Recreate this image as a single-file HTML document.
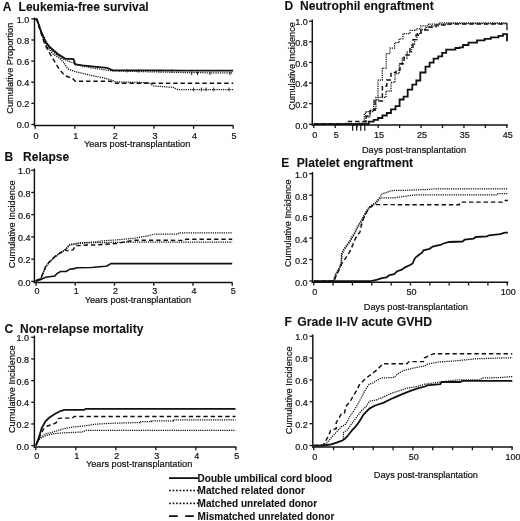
<!DOCTYPE html><html><head><meta charset="utf-8"><style>html,body{margin:0;padding:0;background:#fff;}svg{display:block;filter:blur(0.25px);}text{font-family:"Liberation Sans", sans-serif;fill:#111;stroke:#111;stroke-width:0.2px;} text[font-weight=bold]{stroke-width:0.08px;}</style></head><body>
<svg width="520" height="521" viewBox="0 0 520 521">
<rect width="520" height="521" fill="#fff"/>
<text x="2.7" y="10.9" font-size="12" font-weight="bold" text-anchor="start" >A</text>
<text x="18.6" y="10.9" font-size="12" font-weight="bold" text-anchor="start" >Leukemia-free survival</text>
<path d="M34.5 17.5 V126.2" stroke="#111" stroke-width="1.45" fill="none"/>
<path d="M33.8 125.6 H233.5" stroke="#111" stroke-width="1.5" fill="none"/>
<path d="M31.3 124.4 H34.5" stroke="#111" stroke-width="1.3"/>
<text x="29.3" y="128.1" font-size="9" font-weight="normal" text-anchor="end" >0.0</text>
<path d="M31.3 103.3 H34.5" stroke="#111" stroke-width="1.3"/>
<text x="29.3" y="107" font-size="9" font-weight="normal" text-anchor="end" >0.2</text>
<path d="M31.3 82.2 H34.5" stroke="#111" stroke-width="1.3"/>
<text x="29.3" y="85.9" font-size="9" font-weight="normal" text-anchor="end" >0.4</text>
<path d="M31.3 61.1 H34.5" stroke="#111" stroke-width="1.3"/>
<text x="29.3" y="64.8" font-size="9" font-weight="normal" text-anchor="end" >0.6</text>
<path d="M31.3 40 H34.5" stroke="#111" stroke-width="1.3"/>
<text x="29.3" y="43.7" font-size="9" font-weight="normal" text-anchor="end" >0.8</text>
<path d="M31.3 18.9 H34.5" stroke="#111" stroke-width="1.3"/>
<text x="29.3" y="22.6" font-size="9" font-weight="normal" text-anchor="end" >1.0</text>
<path d="M35.2 125.6 V128.8" stroke="#111" stroke-width="1.3"/>
<text x="36.1" y="138.8" font-size="9" font-weight="normal" text-anchor="middle" >0</text>
<path d="M74.8 125.6 V128.8" stroke="#111" stroke-width="1.3"/>
<text x="75.7" y="138.8" font-size="9" font-weight="normal" text-anchor="middle" >1</text>
<path d="M114.4 125.6 V128.8" stroke="#111" stroke-width="1.3"/>
<text x="115.3" y="138.8" font-size="9" font-weight="normal" text-anchor="middle" >2</text>
<path d="M154 125.6 V128.8" stroke="#111" stroke-width="1.3"/>
<text x="154.9" y="138.8" font-size="9" font-weight="normal" text-anchor="middle" >3</text>
<path d="M193.6 125.6 V128.8" stroke="#111" stroke-width="1.3"/>
<text x="194.5" y="138.8" font-size="9" font-weight="normal" text-anchor="middle" >4</text>
<path d="M233.2 125.6 V128.8" stroke="#111" stroke-width="1.3"/>
<text x="234.1" y="138.8" font-size="9" font-weight="normal" text-anchor="middle" >5</text>
<text x="137.1" y="147" font-size="9.2" font-weight="normal" text-anchor="middle" >Years post-transplantation</text>
<text transform="translate(12.6 68.2) rotate(-90)" font-size="9.2" text-anchor="middle">Cumulative Proportion</text>
<text x="4.6" y="161.1" font-size="12" font-weight="bold" text-anchor="start" >B</text>
<text x="23.1" y="161.1" font-size="12" font-weight="bold" text-anchor="start" >Relapse</text>
<path d="M34.4 168.5 V283.1" stroke="#111" stroke-width="1.45" fill="none"/>
<path d="M33.7 282.5 H232.5" stroke="#111" stroke-width="1.5" fill="none"/>
<path d="M31.2 281.4 H34.4" stroke="#111" stroke-width="1.3"/>
<text x="30.4" y="285.6" font-size="9" font-weight="normal" text-anchor="end" >0.0</text>
<path d="M31.2 259.16 H34.4" stroke="#111" stroke-width="1.3"/>
<text x="30.4" y="263.36" font-size="9" font-weight="normal" text-anchor="end" >0.2</text>
<path d="M31.2 236.92 H34.4" stroke="#111" stroke-width="1.3"/>
<text x="30.4" y="241.12" font-size="9" font-weight="normal" text-anchor="end" >0.4</text>
<path d="M31.2 214.68 H34.4" stroke="#111" stroke-width="1.3"/>
<text x="30.4" y="218.88" font-size="9" font-weight="normal" text-anchor="end" >0.6</text>
<path d="M31.2 192.44 H34.4" stroke="#111" stroke-width="1.3"/>
<text x="30.4" y="196.64" font-size="9" font-weight="normal" text-anchor="end" >0.8</text>
<path d="M31.2 170.2 H34.4" stroke="#111" stroke-width="1.3"/>
<text x="30.4" y="174.4" font-size="9" font-weight="normal" text-anchor="end" >1.0</text>
<path d="M36 282.5 V285.7" stroke="#111" stroke-width="1.3"/>
<text x="36.9" y="294.4" font-size="9" font-weight="normal" text-anchor="middle" >0</text>
<path d="M75.25 282.5 V285.7" stroke="#111" stroke-width="1.3"/>
<text x="76.15" y="294.4" font-size="9" font-weight="normal" text-anchor="middle" >1</text>
<path d="M114.5 282.5 V285.7" stroke="#111" stroke-width="1.3"/>
<text x="115.4" y="294.4" font-size="9" font-weight="normal" text-anchor="middle" >2</text>
<path d="M153.75 282.5 V285.7" stroke="#111" stroke-width="1.3"/>
<text x="154.65" y="294.4" font-size="9" font-weight="normal" text-anchor="middle" >3</text>
<path d="M193 282.5 V285.7" stroke="#111" stroke-width="1.3"/>
<text x="193.9" y="294.4" font-size="9" font-weight="normal" text-anchor="middle" >4</text>
<path d="M232.25 282.5 V285.7" stroke="#111" stroke-width="1.3"/>
<text x="233.15" y="294.4" font-size="9" font-weight="normal" text-anchor="middle" >5</text>
<text x="137.9" y="302.6" font-size="9.2" font-weight="normal" text-anchor="middle" >Years post-transplantation</text>
<text transform="translate(15 224.3) rotate(-90)" font-size="9.2" text-anchor="middle">Cumulative Incidence</text>
<text x="4.5" y="332.9" font-size="12" font-weight="bold" text-anchor="start" >C</text>
<text x="20" y="332.9" font-size="12" font-weight="bold" text-anchor="start" >Non-relapse mortality</text>
<path d="M34.4 335.5 V447.6" stroke="#111" stroke-width="1.45" fill="none"/>
<path d="M33.7 447 H236.3" stroke="#111" stroke-width="1.5" fill="none"/>
<path d="M31.2 445.6 H34.4" stroke="#111" stroke-width="1.3"/>
<text x="29" y="449.5" font-size="9" font-weight="normal" text-anchor="end" >0.0</text>
<path d="M31.2 423.94 H34.4" stroke="#111" stroke-width="1.3"/>
<text x="29" y="427.84" font-size="9" font-weight="normal" text-anchor="end" >0.2</text>
<path d="M31.2 402.28 H34.4" stroke="#111" stroke-width="1.3"/>
<text x="29" y="406.18" font-size="9" font-weight="normal" text-anchor="end" >0.4</text>
<path d="M31.2 380.62 H34.4" stroke="#111" stroke-width="1.3"/>
<text x="29" y="384.52" font-size="9" font-weight="normal" text-anchor="end" >0.6</text>
<path d="M31.2 358.96 H34.4" stroke="#111" stroke-width="1.3"/>
<text x="29" y="362.86" font-size="9" font-weight="normal" text-anchor="end" >0.8</text>
<path d="M31.2 337.3 H34.4" stroke="#111" stroke-width="1.3"/>
<text x="29" y="341.2" font-size="9" font-weight="normal" text-anchor="end" >1.0</text>
<path d="M35.8 447 V450.2" stroke="#111" stroke-width="1.3"/>
<text x="36.7" y="459.2" font-size="9" font-weight="normal" text-anchor="middle" >0</text>
<path d="M75.82 447 V450.2" stroke="#111" stroke-width="1.3"/>
<text x="76.72" y="459.2" font-size="9" font-weight="normal" text-anchor="middle" >1</text>
<path d="M115.84 447 V450.2" stroke="#111" stroke-width="1.3"/>
<text x="116.74" y="459.2" font-size="9" font-weight="normal" text-anchor="middle" >2</text>
<path d="M155.86 447 V450.2" stroke="#111" stroke-width="1.3"/>
<text x="156.76" y="459.2" font-size="9" font-weight="normal" text-anchor="middle" >3</text>
<path d="M195.88 447 V450.2" stroke="#111" stroke-width="1.3"/>
<text x="196.78" y="459.2" font-size="9" font-weight="normal" text-anchor="middle" >4</text>
<path d="M235.9 447 V450.2" stroke="#111" stroke-width="1.3"/>
<text x="236.8" y="459.2" font-size="9" font-weight="normal" text-anchor="middle" >5</text>
<text x="139.1" y="467.3" font-size="9.2" font-weight="normal" text-anchor="middle" >Years post-transplantation</text>
<text transform="translate(14.6 389.2) rotate(-90)" font-size="9.2" text-anchor="middle">Cumulative Incidence</text>
<text x="284.6" y="9.6" font-size="12" font-weight="bold" text-anchor="start" >D</text>
<text x="300" y="9.6" font-size="12.1" font-weight="bold" text-anchor="start" >Neutrophil engraftment</text>
<path d="M312.3 19.5 V125.5" stroke="#111" stroke-width="1.45" fill="none"/>
<path d="M311.6 124.9 H507.8" stroke="#111" stroke-width="1.5" fill="none"/>
<path d="M309.1 124.3 H312.3" stroke="#111" stroke-width="1.3"/>
<text x="307.8" y="128.5" font-size="9" font-weight="normal" text-anchor="end" >0.0</text>
<path d="M309.1 103.68 H312.3" stroke="#111" stroke-width="1.3"/>
<text x="307.8" y="107.88" font-size="9" font-weight="normal" text-anchor="end" >0.2</text>
<path d="M309.1 83.06 H312.3" stroke="#111" stroke-width="1.3"/>
<text x="307.8" y="87.26" font-size="9" font-weight="normal" text-anchor="end" >0.4</text>
<path d="M309.1 62.44 H312.3" stroke="#111" stroke-width="1.3"/>
<text x="307.8" y="66.64" font-size="9" font-weight="normal" text-anchor="end" >0.6</text>
<path d="M309.1 41.82 H312.3" stroke="#111" stroke-width="1.3"/>
<text x="307.8" y="46.02" font-size="9" font-weight="normal" text-anchor="end" >0.8</text>
<path d="M309.1 21.2 H312.3" stroke="#111" stroke-width="1.3"/>
<text x="307.8" y="25.4" font-size="9" font-weight="normal" text-anchor="end" >1.0</text>
<path d="M313.8 124.9 V128.1" stroke="#111" stroke-width="1.3"/>
<text x="314.7" y="137.5" font-size="9" font-weight="normal" text-anchor="middle" >0</text>
<path d="M335.25 124.9 V128.1" stroke="#111" stroke-width="1.3"/>
<text x="336.15" y="137.5" font-size="9" font-weight="normal" text-anchor="middle" >5</text>
<path d="M356.7 124.9 V128.1" stroke="#111" stroke-width="1.3"/>
<path d="M378.15 124.9 V128.1" stroke="#111" stroke-width="1.3"/>
<text x="379.05" y="137.5" font-size="9" font-weight="normal" text-anchor="middle" >15</text>
<path d="M399.6 124.9 V128.1" stroke="#111" stroke-width="1.3"/>
<path d="M421.05 124.9 V128.1" stroke="#111" stroke-width="1.3"/>
<text x="421.95" y="137.5" font-size="9" font-weight="normal" text-anchor="middle" >25</text>
<path d="M442.5 124.9 V128.1" stroke="#111" stroke-width="1.3"/>
<path d="M463.95 124.9 V128.1" stroke="#111" stroke-width="1.3"/>
<text x="464.85" y="137.5" font-size="9" font-weight="normal" text-anchor="middle" >35</text>
<path d="M485.4 124.9 V128.1" stroke="#111" stroke-width="1.3"/>
<path d="M506.85 124.9 V128.1" stroke="#111" stroke-width="1.3"/>
<text x="507.75" y="137.5" font-size="9" font-weight="normal" text-anchor="middle" >45</text>
<text x="414" y="152.6" font-size="9.2" font-weight="normal" text-anchor="middle" >Days post-transplantation</text>
<text transform="translate(294.7 66) rotate(-90)" font-size="9.2" text-anchor="middle">Cumulative Incidence</text>
<text x="281.2" y="167" font-size="12" font-weight="bold" text-anchor="start" >E</text>
<text x="296.8" y="167" font-size="12.1" font-weight="bold" text-anchor="start" >Platelet engraftment</text>
<path d="M312.5 172 V282.9" stroke="#111" stroke-width="1.45" fill="none"/>
<path d="M311.8 282.3 H508.4" stroke="#111" stroke-width="1.5" fill="none"/>
<path d="M309.3 281 H312.5" stroke="#111" stroke-width="1.3"/>
<text x="307.5" y="285.7" font-size="9" font-weight="normal" text-anchor="end" >0.0</text>
<path d="M309.3 259.54 H312.5" stroke="#111" stroke-width="1.3"/>
<text x="307.5" y="264.24" font-size="9" font-weight="normal" text-anchor="end" >0.2</text>
<path d="M309.3 238.08 H312.5" stroke="#111" stroke-width="1.3"/>
<text x="307.5" y="242.78" font-size="9" font-weight="normal" text-anchor="end" >0.4</text>
<path d="M309.3 216.62 H312.5" stroke="#111" stroke-width="1.3"/>
<text x="307.5" y="221.32" font-size="9" font-weight="normal" text-anchor="end" >0.6</text>
<path d="M309.3 195.16 H312.5" stroke="#111" stroke-width="1.3"/>
<text x="307.5" y="199.86" font-size="9" font-weight="normal" text-anchor="end" >0.8</text>
<path d="M309.3 173.7 H312.5" stroke="#111" stroke-width="1.3"/>
<text x="307.5" y="178.4" font-size="9" font-weight="normal" text-anchor="end" >1.0</text>
<path d="M313.75 282.3 V285.5" stroke="#111" stroke-width="1.3"/>
<text x="314.65" y="295" font-size="9" font-weight="normal" text-anchor="middle" >0</text>
<path d="M333.1 282.3 V285.5" stroke="#111" stroke-width="1.3"/>
<path d="M352.45 282.3 V285.5" stroke="#111" stroke-width="1.3"/>
<path d="M371.8 282.3 V285.5" stroke="#111" stroke-width="1.3"/>
<path d="M391.15 282.3 V285.5" stroke="#111" stroke-width="1.3"/>
<path d="M410.5 282.3 V285.5" stroke="#111" stroke-width="1.3"/>
<text x="411.4" y="295" font-size="9" font-weight="normal" text-anchor="middle" >50</text>
<path d="M429.85 282.3 V285.5" stroke="#111" stroke-width="1.3"/>
<path d="M449.2 282.3 V285.5" stroke="#111" stroke-width="1.3"/>
<path d="M468.55 282.3 V285.5" stroke="#111" stroke-width="1.3"/>
<path d="M487.9 282.3 V285.5" stroke="#111" stroke-width="1.3"/>
<path d="M507.25 282.3 V285.5" stroke="#111" stroke-width="1.3"/>
<text x="508.15" y="295" font-size="9" font-weight="normal" text-anchor="middle" >100</text>
<text x="415.9" y="310.2" font-size="9.2" font-weight="normal" text-anchor="middle" >Days post-transplantation</text>
<text transform="translate(291.1 223.2) rotate(-90)" font-size="9.2" text-anchor="middle">Cumulative Incidence</text>
<text x="284.6" y="326.2" font-size="12" font-weight="bold" text-anchor="start" >F</text>
<text x="297.2" y="326.2" font-size="12.2" font-weight="bold" text-anchor="start" >Grade II-IV acute GVHD</text>
<path d="M312.8 334.5 V447.6" stroke="#111" stroke-width="1.45" fill="none"/>
<path d="M312.1 447 H512.8" stroke="#111" stroke-width="1.5" fill="none"/>
<path d="M309.6 445.5 H312.8" stroke="#111" stroke-width="1.3"/>
<text x="307.8" y="449.7" font-size="9" font-weight="normal" text-anchor="end" >0.0</text>
<path d="M309.6 423.64 H312.8" stroke="#111" stroke-width="1.3"/>
<text x="307.8" y="427.84" font-size="9" font-weight="normal" text-anchor="end" >0.2</text>
<path d="M309.6 401.78 H312.8" stroke="#111" stroke-width="1.3"/>
<text x="307.8" y="405.98" font-size="9" font-weight="normal" text-anchor="end" >0.4</text>
<path d="M309.6 379.92 H312.8" stroke="#111" stroke-width="1.3"/>
<text x="307.8" y="384.12" font-size="9" font-weight="normal" text-anchor="end" >0.6</text>
<path d="M309.6 358.06 H312.8" stroke="#111" stroke-width="1.3"/>
<text x="307.8" y="362.26" font-size="9" font-weight="normal" text-anchor="end" >0.8</text>
<path d="M309.6 336.2 H312.8" stroke="#111" stroke-width="1.3"/>
<text x="307.8" y="340.4" font-size="9" font-weight="normal" text-anchor="end" >1.0</text>
<path d="M313.75 447 V450.2" stroke="#111" stroke-width="1.3"/>
<text x="314.65" y="459.7" font-size="9" font-weight="normal" text-anchor="middle" >0</text>
<path d="M333.58 447 V450.2" stroke="#111" stroke-width="1.3"/>
<path d="M353.41 447 V450.2" stroke="#111" stroke-width="1.3"/>
<path d="M373.24 447 V450.2" stroke="#111" stroke-width="1.3"/>
<path d="M393.07 447 V450.2" stroke="#111" stroke-width="1.3"/>
<path d="M412.9 447 V450.2" stroke="#111" stroke-width="1.3"/>
<text x="413.8" y="459.7" font-size="9" font-weight="normal" text-anchor="middle" >50</text>
<path d="M432.73 447 V450.2" stroke="#111" stroke-width="1.3"/>
<path d="M452.56 447 V450.2" stroke="#111" stroke-width="1.3"/>
<path d="M472.39 447 V450.2" stroke="#111" stroke-width="1.3"/>
<path d="M492.22 447 V450.2" stroke="#111" stroke-width="1.3"/>
<path d="M512.05 447 V450.2" stroke="#111" stroke-width="1.3"/>
<text x="512.95" y="459.7" font-size="9" font-weight="normal" text-anchor="middle" >100</text>
<text x="425.9" y="478.4" font-size="9.2" font-weight="normal" text-anchor="middle" >Days post-transplantation</text>
<text transform="translate(292 390.3) rotate(-90)" font-size="9.2" text-anchor="middle">Cumulative Incidence</text>
<path d="M35.5 18.9 L37 19.4 L41.2 32 L46 42.2 L50 47.3 L57.5 53.7 L65 58.6 L73.5 59.2 L75.2 64.4 L82.5 65.4 L96.5 66.9 L107 67.9 L112.8 70.4 L150 70.4 L186 70.6 L233.2 70.6" stroke="#111" stroke-width="1.8" fill="none" stroke-linejoin="miter"/>
<path d="M35.5 18.9 L37 19.5 L40 29 L43.5 40 L47.5 47.5 L53 54 L60 58.5 L63 61.5 L67.7 68.8 L75.3 71.7 L91.7 75.6 L101.3 77.5 L110.8 79.8 L116.2 81.9 L148.5 82.7 L153.8 86 L172.7 87.3 L178 89.5 L233.2 89.5" stroke="#111" stroke-width="1.25" fill="none" stroke-dasharray="1.2 1"/>
<path d="M193.6 87.6 V91.2" stroke="#222" stroke-width="1"/>
<path d="M201.3 87.6 V91.2" stroke="#222" stroke-width="1"/>
<path d="M206 87.6 V91.2" stroke="#222" stroke-width="1"/>
<path d="M213.8 87.6 V91.2" stroke="#222" stroke-width="1"/>
<path d="M229 87.6 V91.2" stroke="#222" stroke-width="1"/>
<path d="M191.7 71.6 V75" stroke="#222" stroke-width="1"/>
<path d="M197.5 71.6 V75" stroke="#222" stroke-width="1"/>
<path d="M210 71.6 V75" stroke="#222" stroke-width="1"/>
<path d="M230 71.6 V75" stroke="#222" stroke-width="1"/>
<path d="M127 69 V72.5" stroke="#333" stroke-width="0.9"/>
<path d="M138 69 V72.5" stroke="#333" stroke-width="0.9"/>
<path d="M160 69 V72.5" stroke="#333" stroke-width="0.9"/>
<path d="M172 69 V72.5" stroke="#333" stroke-width="0.9"/>
<path d="M35.5 18.9 L37 19.5 L40.5 29.5 L44.5 40.5 L48.5 47 L54 52.5 L62 58.5 L72 62.5 L80 65.5 L91.7 67.9 L111 70.8 L140 71.6 L186 72.6 L233.2 73" stroke="#111" stroke-width="1.25" fill="none" stroke-dasharray="1.2 1"/>
<path d="M35.5 18.9 L37 20 L40 30 L44 42 L47.5 49.6 L53.2 59.2 L59 68.8 L64.8 75.6 L72.5 78.5 L75.3 81.3 L111 81.3 L114.8 83.3 L233.2 83.3" stroke="#111" stroke-width="1.45" fill="none" stroke-dasharray="4.4 2.9"/>
<path d="M35.7 281.2 L40.9 279.6 L45.5 277.2 L54.8 276.1 L57 273.5 L60.5 271.5 L66.3 271.5 L69.8 269.2 L74.4 268.6 L76.7 267.8 L91.7 267.5 L105 266.3 L107 266 L111 263.6 L232.2 263.6" stroke="#111" stroke-width="1.6" fill="none"/>
<path d="M35.7 280.7 L40.9 278.4 L43.2 272.7 L45.5 266.9 L49 262.3 L52.5 258.8 L57 254.8 L61.7 251.9 L65.1 249.6 L69.8 244.4 L74.4 243.8 L80.1 242.7 L94 242.1 L101.3 241 L115 240 L134 238.3 L145.5 236.3 L155 234 L178 234 L179 232.8 L232.2 232.8" stroke="#111" stroke-width="1.25" fill="none" stroke-dasharray="1.2 1"/>
<path d="M35.7 281.3 L40.9 279 L43.2 273.3 L45.5 267.5 L49 262.9 L52.5 259.4 L57 255.4 L61.7 252.5 L65.1 250.2 L69.8 245 L74.4 244.4 L80.1 243.3 L94 242.7 L116.7 242.4 L134 242 L232.2 242" stroke="#111" stroke-width="1.25" fill="none" stroke-dasharray="1.2 1"/>
<path d="M35.7 280.7 L40.9 278.4 L43.2 272.7 L45.5 266.9 L49 262.3 L52.5 258.8 L57 254.8 L61.7 251.9 L65.1 249.6 L67.4 250.8 L73.2 249.6 L75.5 245.6 L80.1 245.6 L87 245 L94 245 L116.7 243.5 L134 240.2 L185 240.4 L186 239.2 L232.2 239.2" stroke="#111" stroke-width="1.45" fill="none" stroke-dasharray="4.4 2.9"/>
<path d="M36 445.4 L38.8 437.7 L41.7 428 L45.5 421.3 L49.4 417.5 L55.2 413.7 L61 410.8 L64.8 409.8 L84 409.8 L86 408.8 L235.5 408.8" stroke="#111" stroke-width="1.8" fill="none" stroke-linejoin="miter"/>
<path d="M36 445.4 L39.8 437.7 L45.5 433.8 L53.2 432 L62.8 429 L72.5 427 L84 426 L95.5 424.2 L111 423.3 L134 422.7 L140 422.7 L140 421.7 L151.3 421.7 L151.3 420.8 L173.4 420.8 L173.4 419.8 L235.5 419.8" stroke="#111" stroke-width="1.25" fill="none" stroke-dasharray="1.2 1"/>
<path d="M36 445.4 L39.8 438.7 L45.5 435.8 L53.2 433.8 L62.8 432.9 L82 432 L86 430.4 L235.5 430.4" stroke="#111" stroke-width="1.25" fill="none" stroke-dasharray="1.2 1"/>
<path d="M36 445.4 L39.8 435.8 L43.6 429 L47.5 426 L53.2 424.2 L56.2 422.6 L58.2 418.6 L60.9 418.1 L71.7 418.1 L74.4 416.5 L235.5 416.5" stroke="#111" stroke-width="1.45" fill="none" stroke-dasharray="4.4 2.9"/>
<path d="M313.8 124.2 L368.7 124.2 L368.7 121.7 L373.7 121.7 L373.7 119.8 L378 119.8 L378 118 L382.4 118 L382.4 115.5 L386.8 115.5 L386.8 113 L391 113 L391 109.3 L395.5 109.3 L395.5 106.1 L399.6 106.1 L399.6 99.5 L403.6 99.5 L403.6 96.7 L407.7 96.7 L407.7 89.7 L412.3 89.7 L412.3 84.6 L416.3 84.6 L416.3 80.5 L420.3 80.5 L420.3 72.5 L425.5 72.5 L425.5 66.7 L429.6 66.7 L429.6 62.7 L433.6 62.7 L433.6 58.6 L438.2 58.6 L438.2 56.3 L442.2 56.3 L442.2 52.8 L446.2 52.8 L446.2 49.6 L455.4 49.6 L455.4 48 L459.7 48 L459.7 47.3 L463 47.3 L463 45 L468.5 45 L468.5 42.7 L477 42.7 L477 40.4 L484.6 40.4 L484.6 38.8 L490.8 38.8 L490.8 37.3 L498.5 37.3 L498.5 35.8 L503 35.8 L503 34.2 L507 34.2 L507 41.2" stroke="#111" stroke-width="1.8" fill="none" stroke-linejoin="miter"/>
<path d="M313.8 124 L348 124 L348 123.5 L360 123.5 L360 123 L364.3 123 L364.3 119.2 L364.3 119.2 L364.3 113.4 L366 113.4 L366 112 L366.2 112 L366.2 111.7 L373.7 111.7 L373.7 100 L378 100 L378 80 L382.3 80 L382.3 68 L386.2 68 L386.2 53.5 L390 53.5 L390 48 L394.6 48 L394.6 42.7 L399.2 42.7 L399.2 38.8 L403 38.8 L403 33.5 L410 33.5 L410 30.4 L416 30.4 L416 28.8 L420.8 28.8 L420.8 25.8 L428.5 25.8 L428.5 24.2 L439 24.2 L439 22.9 L507 22.9 L507 22.9 L507 22.9 L507 30" stroke="#111" stroke-width="1.25" fill="none" stroke-dasharray="1.2 1"/>
<path d="M313.8 124 L360 124 L360 123.5 L366 123.5 L366 117 L370 117 L370 110 L376 110 L376 97.4 L386 97.4 L386 91 L391 91 L391 82.4 L395 82.4 L395 73.7 L399.2 73.7 L399.2 64.2 L402.3 64.2 L402.3 58 L407 58 L407 52 L411.5 52 L411.5 44.2 L414.6 44.2 L414.6 39.6 L417 39.6 L417 33.5 L420.8 33.5 L420.8 29.6 L425.4 29.6 L425.4 27.3 L431.5 27.3 L431.5 25.8 L439 25.8 L439 24.2 L450 24.2 L450 23.5 L507 23.5 L507 23.5 L507 23.5 L507 30.4" stroke="#111" stroke-width="1.25" fill="none" stroke-dasharray="1.2 1"/>
<path d="M313.8 124 L346 124 L346 123.5 L347.5 123.5 L347.5 121.5 L351 121.5 L351 121.5 L353.8 121.5 L353.8 121.5 L358 121.5 L358 121.5 L362 121.5 L362 121.5 L366 121.5 L366 116 L370 116 L370 110 L375 110 L375 101 L382.4 101 L382.4 86 L386.8 86 L386.8 80 L391 80 L391 72.5 L396 72.5 L396 70 L400 70 L400 63.7 L404 63.7 L404 55 L410 55 L410 47.3 L413 47.3 L413 39.6 L416 39.6 L416 35 L421 35 L421 30 L428 30 L428 27 L436 27 L436 25 L445 25 L445 24 L507 24 L507 24" stroke="#111" stroke-width="1.45" fill="none" stroke-dasharray="4.4 2.9"/>
<path d="M352.7 124 V130.7" stroke="#111" stroke-width="1.2"/>
<path d="M356.7 124 V130.7" stroke="#111" stroke-width="1.2"/>
<path d="M360.8 124 V130.7" stroke="#111" stroke-width="1.2"/>
<path d="M364.8 124 V130.7" stroke="#111" stroke-width="1.2"/>
<path d="M313.75 281.2 L333.5 281 L333.5 280.4 L335.2 274.6 L337.5 271.1 L339.2 267.7 L341 263.1 L341.5 253.8 L343.3 249.8 L346.1 245.8 L349.6 241.1 L351.9 236.5 L354.2 233.1 L357.4 226.4 L361.6 220.1 L364.8 213.8 L367.9 208.5 L371.1 205.3 L375.3 202.7 L378.5 199 L380.6 196.4 L381.6 194.2 L385.9 192.7 L390.1 191.1 L394.3 190.3 L405 190.3 L427 189.5 L436 188.8 L507.9 188.8" stroke="#111" stroke-width="1.25" fill="none" stroke-dasharray="1.2 1"/>
<path d="M314.25 282 L334 281.8 L334 281.2 L335.7 275.4 L338 271.9 L339.7 268.5 L341.5 263.9 L342 254.6 L343.8 250.6 L346.6 246.6 L350.1 241.9 L352.4 237.3 L354.7 233.9 L357.9 227.2 L362.1 220.9 L365.3 214.6 L368.4 209.3 L371.6 206.1 L375.8 203.5 L379 199.8 L380.6 197.9 L394.3 197.9 L396.4 197.4 L400 196.9 L416 194.8 L496.8 194.8 L498 193.7 L507.9 193.7" stroke="#111" stroke-width="1.25" fill="none" stroke-dasharray="1.2 1"/>
<path d="M313.75 281.2 L334 281 L336 276 L339 270 L341.5 264.2 L347.3 255.6 L350.2 251 L351.9 246.9 L354.2 241.1 L356.5 236.5 L360 231.9 L361.1 226.2 L363.7 218 L366.9 211.6 L370 207.4 L373.2 205.3 L375.3 204.6 L459.2 204.8 L460.3 202.1 L502.3 202.1 L503.5 200.4 L507.9 200.4" stroke="#111" stroke-width="1.45" fill="none" stroke-dasharray="4.4 2.9"/>
<path d="M313.75 281.2 L371.2 281.2 L377.3 279.6 L381.9 278.1 L386.5 277.3 L389.6 275 L394.2 274.2 L397.3 271.2 L401.9 269.6 L405 267.3 L409.6 265.3 L412.7 263.5 L414.2 259.6 L415.8 257.3 L418.8 255 L421.9 252.7 L423.5 250.4 L426.5 249.6 L429.6 248.8 L432.7 246.5 L435.8 245.8 L440.4 245 L443.5 243.5 L449.2 242 L462.5 241.5 L464.7 239.7 L473.6 238.6 L475.8 237 L486.9 236.4 L489 235.3 L500 234.2 L505 232.7 L507.9 232.7" stroke="#111" stroke-width="1.8" fill="none" stroke-linejoin="miter"/>
<path d="M313.75 445.5 L323 445.3 L325.6 441.1 L328.7 435.5 L330.5 430.5 L336.2 428.7 L336.2 422.4 L338.7 418.7 L341.1 414.3 L344.3 413.7 L346.1 406.2 L349.9 401.9 L353.9 394.8 L356.6 390.7 L359.3 385 L365.1 378.9 L370.9 374.5 L376.6 370.2 L380.2 366.6 L383.1 363.7 L406.9 363.7 L409 361.6 L423.4 361.6 L424.2 358 L429.3 355.5 L433.8 353.7 L512.3 353.7" stroke="#111" stroke-width="1.45" fill="none" stroke-dasharray="4.4 2.9"/>
<path d="M313.75 445.5 L323 445.3 L326.8 443 L332.4 436.2 L337.4 431.2 L341.1 426.8 L344.9 424.9 L347.4 421.2 L349.9 416.2 L353.6 411.2 L357.4 405 L360.6 399 L364.9 390.6 L369 384.3 L372.3 383.2 L380.9 378.1 L393.9 377.4 L398.2 373.8 L402.6 370.9 L406.9 369.5 L417 367.3 L425 365.9 L427 364.3 L438.2 362 L453.7 361 L475.8 358.8 L512.3 357.7" stroke="#111" stroke-width="1.25" fill="none" stroke-dasharray="1.2 1"/>
<path d="M313.75 445.5 L328.4 445.1 L335.1 443.1 L343.4 440 L343.6 432.4 L347.4 429.9 L349.9 426.2 L353.6 421.2 L357.4 416.2 L360 412.5 L362 410.2 L366 406.8 L369.4 401.2 L376.6 399.8 L383.8 396.9 L389.6 394 L398.2 391.1 L406.9 388.2 L415.5 386.8 L424.9 384.2 L440.4 382 L458.1 379.8 L480.2 379.8 L482.4 378 L500 377.6 L512.3 376.5" stroke="#111" stroke-width="1.25" fill="none" stroke-dasharray="1.2 1"/>
<path d="M313.75 445.6 L322.4 445.5 L331.2 444.3 L337.4 442.4 L342.4 440.5 L344.9 438.7 L347.4 436.2 L349.9 433 L352.4 429.9 L354.9 427.4 L357.4 424.3 L360 420.5 L363.5 414.5 L369.4 408.6 L375.2 405.5 L383.8 402.6 L392.5 398.3 L401.1 394.7 L409.8 391.1 L418.4 388.2 L425 386.5 L427 385.4 L440.4 384.2 L441.5 382 L460.3 382 L462.5 380.9 L512.3 380.9" stroke="#111" stroke-width="1.8" fill="none" stroke-linejoin="miter"/>
<path d="M169 478.1 H198" stroke="#111" stroke-width="1.8"/>
<rect x="169.2" y="489.7" width="1.6" height="1.6" fill="#000"/>
<rect x="172.66" y="489.7" width="1.6" height="1.6" fill="#000"/>
<rect x="176.12" y="489.7" width="1.6" height="1.6" fill="#000"/>
<rect x="179.58" y="489.7" width="1.6" height="1.6" fill="#000"/>
<rect x="183.04" y="489.7" width="1.6" height="1.6" fill="#000"/>
<rect x="186.5" y="489.7" width="1.6" height="1.6" fill="#000"/>
<rect x="189.96" y="489.7" width="1.6" height="1.6" fill="#000"/>
<rect x="193.42" y="489.7" width="1.6" height="1.6" fill="#000"/>
<rect x="196.88" y="489.7" width="1.6" height="1.6" fill="#000"/>
<rect x="169.2" y="502.6" width="1.6" height="1.6" fill="#000"/>
<rect x="172.66" y="502.6" width="1.6" height="1.6" fill="#000"/>
<rect x="176.12" y="502.6" width="1.6" height="1.6" fill="#000"/>
<rect x="179.58" y="502.6" width="1.6" height="1.6" fill="#000"/>
<rect x="183.04" y="502.6" width="1.6" height="1.6" fill="#000"/>
<rect x="186.5" y="502.6" width="1.6" height="1.6" fill="#000"/>
<rect x="189.96" y="502.6" width="1.6" height="1.6" fill="#000"/>
<rect x="193.42" y="502.6" width="1.6" height="1.6" fill="#000"/>
<rect x="196.88" y="502.6" width="1.6" height="1.6" fill="#000"/>
<path d="M169 516.1 H177.8 M185.2 516.1 H193.8" stroke="#111" stroke-width="1.9"/>
<text x="197.6" y="481.5" font-size="10" font-weight="bold" text-anchor="start" >Double umbilical cord blood</text>
<text x="197.6" y="494.4" font-size="10" font-weight="bold" text-anchor="start" >Matched related donor</text>
<text x="197.6" y="507" font-size="10" font-weight="bold" text-anchor="start" >Matched unrelated donor</text>
<text x="197.6" y="519.8" font-size="10" font-weight="bold" text-anchor="start" >Mismatched unrelated donor</text>
</svg></body></html>
